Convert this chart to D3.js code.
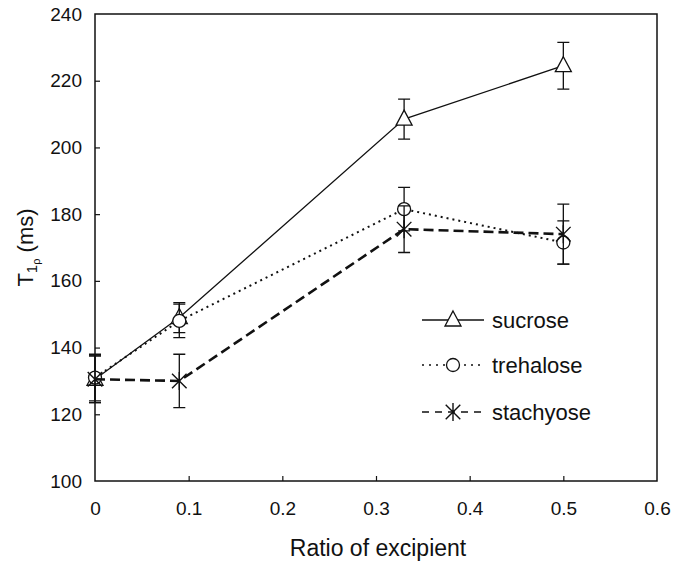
<!DOCTYPE html>
<html><head><meta charset="utf-8">
<script src="https://cdn.jsdelivr.net/npm/d3@7"></script>
<style>body{margin:0;background:#fff}svg{display:block}text{font-family:"Liberation Sans",Arial,sans-serif;fill:#111}</style>
</head><body>
<svg id="c" width="673" height="564"></svg>
<script>
const ratios = [0, 0.09, 0.33, 0.5];
const sucrose = [130.5, 149, 208.5, 224.5];
const sucroseErr = [7, 4.5, 6, 7];
const trehalose = [131, 148, 181.5, 171.5];
const trehaloseErr = [7, 5, 6.5, 6.5];
const stachyose = [130.5, 130, 175.5, 174];
const stachyoseErr = [7, 8, 7, 9];
const xTicks = [0, 0.1, 0.2, 0.3, 0.4, 0.5, 0.6];
const yTicks = [100, 120, 140, 160, 180, 200, 220, 240];
const seriesNames = ["sucrose", "trehalose", "stachyose"];

const svg = d3.select("#c");
const L = 95, R = 657, T = 14, B = 481;
const x = d3.scaleLinear().domain([0, 0.6]).range([L, R]);
const y = d3.scaleLinear().domain([100, 240]).range([B, T]);

// frame
svg.append("rect").attr("x", L).attr("y", T).attr("width", R - L).attr("height", B - T)
  .attr("fill", "none").attr("stroke", "#111").attr("stroke-width", 1.5);

// axes
const xa = svg.append("g").attr("transform", `translate(0,${B})`)
  .call(d3.axisBottom(x).tickValues(xTicks).tickSize(-5).tickPadding(21).tickFormat(d => d === 0 ? "0" : d3.format(".1f")(d)));
const ya = svg.append("g").attr("transform", `translate(${L},0)`)
  .call(d3.axisLeft(y).tickValues(yTicks).tickSize(-5).tickPadding(13));
[xa, ya].forEach(g => {
  g.select(".domain").remove();
  g.selectAll("line").attr("stroke", "#111").attr("stroke-width", 1.2);
  g.selectAll("text").attr("font-size", 19).attr("fill", "#111");
});
xa.selectAll(".tick").filter(d => d === 0 || d === 0.6).select("line").remove();
ya.selectAll(".tick").filter(d => d === 100 || d === 240).select("line").remove();

// titles
svg.append("text").attr("x", 378).attr("y", 556).attr("text-anchor", "middle")
  .attr("font-size", 23).text("Ratio of excipient");
const yt = svg.append("text").attr("transform", `translate(33,${(T + B) / 2}) rotate(-90)`)
  .attr("text-anchor", "middle").attr("font-size", 22);
yt.append("tspan").text("T");
yt.append("tspan").attr("font-size", 15).attr("dy", 4).text("1");
yt.append("tspan").attr("font-size", 11).attr("dy", 3).text("ρ");
yt.append("tspan").attr("dy", -7).text(" (ms)");

const series = [
  {name: seriesNames[0], vals: sucrose, err: sucroseErr, dash: null, w: 1.3, marker: "tri"},
  {name: seriesNames[1], vals: trehalose, err: trehaloseErr, dash: "2,4", w: 2, marker: "circ"},
  {name: seriesNames[2], vals: stachyose, err: stachyoseErr, dash: "10,5", w: 2.6, marker: "star"}
];

const line = d3.line().x(d => x(d[0])).y(d => y(d[1]));

function drawMarker(g, m, cx, cy) {
  if (m === "tri") {
    g.append("path").attr("d", `M${cx},${cy - 9}L${cx + 8},${cy + 6}L${cx - 8},${cy + 6}Z`)
      .attr("fill", "#fff").attr("stroke", "#111").attr("stroke-width", 1.3);
  } else if (m === "circ") {
    g.append("circle").attr("cx", cx).attr("cy", cy).attr("r", 6.5)
      .attr("fill", "#fff").attr("stroke", "#111").attr("stroke-width", 1.3);
  } else {
    const s = 9, a = Math.PI / 3;
    const dx = s * Math.cos(a * 0.6), dy = s * Math.sin(a * 0.9);
    g.append("path").attr("d", `M${cx - dx},${cy - dy}L${cx + dx},${cy + dy}M${cx - dx},${cy + dy}L${cx + dx},${cy - dy}M${cx},${cy - s}L${cx},${cy + s}`)
      .attr("fill", "none").attr("stroke", "#111").attr("stroke-width", 1.4);
  }
}

series.forEach(s => {
  const pts = ratios.map((r, i) => [r, s.vals[i]]);
  svg.append("path").datum(pts).attr("d", line).attr("fill", "none")
    .attr("stroke", "#111").attr("stroke-width", s.w)
    .attr("stroke-dasharray", s.dash);
  const g = svg.append("g");
  pts.forEach((p, i) => {
    const cx = x(p[0]), y1 = y(p[1] + s.err[i]), y2 = y(p[1] - s.err[i]);
    g.append("path").attr("d", `M${cx},${y1}L${cx},${y2}M${cx - 6},${y1}L${cx + 6},${y1}M${cx - 6},${y2}L${cx + 6},${y2}`)
      .attr("stroke", "#111").attr("stroke-width", 1.3).attr("fill", "none");
  });
  pts.forEach(p => drawMarker(g, s.marker, x(p[0]), y(p[1])));
});

// legend
const legY = [320, 365, 412];
series.forEach((s, i) => {
  const ly = legY[i];
  svg.append("line").attr("x1", 422).attr("x2", 484).attr("y1", ly).attr("y2", ly)
    .attr("stroke", "#111").attr("stroke-width", i === 2 ? 1.6 : 1.3).attr("stroke-dasharray", i === 0 ? null : (i === 1 ? "2,5" : "7,6"));
  const g = svg.append("g");
  drawMarker(g, s.marker, 453, ly);
  svg.append("text").attr("x", 492).attr("y", ly + 8).attr("font-size", 22).text(s.name);
});
</script>
</body></html>
